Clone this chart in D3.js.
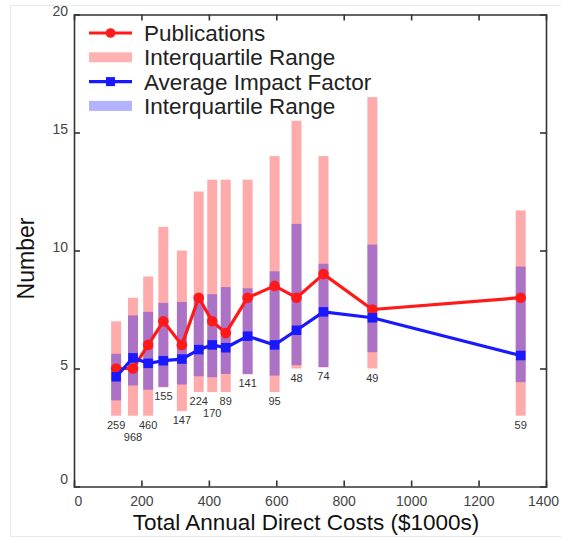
<!DOCTYPE html>
<html><head><meta charset="utf-8">
<script src="https://cdn.jsdelivr.net/npm/d3@7/dist/d3.min.js"></script>
<style>
html,body{margin:0;padding:0;background:#fff;}
svg{display:block;font-family:"Liberation Sans",Arial,sans-serif;}
</style></head>
<body><svg id="chart" width="561" height="540"></svg>
<script>
// ---- data ----
const costs      = [125, 175, 220, 265, 320, 370, 410, 450, 515, 595, 660, 740, 885, 1325];
const pubMedian  = [5.0, 5.0, 6.0, 7.0, 6.0, 8.0, 7.0, 6.5, 8.0, 8.5, 8.0, 9.0, 7.5, 8.0];
const pubQ1      = [3.0, 3.0, 3.0, 4.2, 3.2, 4.0, 4.0, 4.0, 4.75, 4.0, 5.0, 5.05, 5.0, 3.0];
const pubQ3      = [7.0, 8.0, 8.9, 11.0, 10.0, 12.5, 13.0, 13.0, 13.0, 14.0, 15.5, 14.0, 16.5, 11.7];
const ifMean     = [4.65, 5.45, 5.22, 5.33, 5.4, 5.8, 6.0, 5.88, 6.37, 6.0, 6.62, 7.4, 7.15, 5.55];
const ifQ1       = [3.65, 4.28, 4.1, 4.22, 4.32, 4.67, 4.63, 4.77, 4.77, 4.7, 5.14, 5.06, 5.69, 4.42];
const ifQ3       = [5.62, 7.25, 7.4, 7.78, 7.82, 8.0, 8.15, 8.45, 8.4, 9.12, 11.13, 9.44, 10.25, 9.32];
const counts     = [259, 968, 460, 155, 147, 224, 170, 89, 141, 95, 48, 74, 49, 59];
const xTicks     = [0, 200, 400, 600, 800, 1000, 1200, 1400];
const yTicks     = [0, 5, 10, 15, 20];
const legendLabels = ["Publications", "Interquartile Range", "Average Impact Factor", "Interquartile Range"];
const xTitle = "Total Annual Direct Costs ($1000s)";
const yTitle = "Number";

const rows = costs.map((c, i) => ({
  x: c, pm: pubMedian[i], p1: pubQ1[i], p3: pubQ3[i],
  im: ifMean[i], i1: ifQ1[i], i3: ifQ3[i], n: counts[i]
}));

const svg = d3.select("#chart");
const m = {left: 74, top: 14.5, right: 546, bottom: 486.5};

// faint frame of the original picture
svg.append("rect").attr("x", 10.5).attr("y", 5.5).attr("width", 560).attr("height", 531)
  .attr("fill", "none").attr("stroke", "#e6e9ed").attr("stroke-width", 1);

const x = d3.scaleLinear().domain([0, 1400]).range([m.left, m.right]);
const y = d3.scaleLinear().domain([0, 20]).range([m.bottom, m.top]);

const red = "rgb(255,25,25)", blue = "rgb(25,25,255)";
const barW = 10;

// bars
const g = svg.append("g");
g.selectAll("rect.pub").data(rows).join("rect").attr("class", "pub")
  .attr("x", d => x(d.x) - barW / 2).attr("width", barW)
  .attr("y", d => y(d.p3)).attr("height", d => y(d.p1) - y(d.p3))
  .attr("fill", "rgb(255,0,0)").attr("fill-opacity", 0.33);
g.selectAll("rect.if").data(rows).join("rect").attr("class", "if")
  .attr("x", d => x(d.x) - barW / 2).attr("width", barW)
  .attr("y", d => y(d.i3)).attr("height", d => y(d.i1) - y(d.i3))
  .attr("fill", "rgb(0,0,255)").attr("fill-opacity", 0.33);

// lines
g.append("path").datum(rows)
  .attr("d", d3.line().x(d => x(d.x)).y(d => y(d.pm)))
  .attr("fill", "none").attr("stroke", red).attr("stroke-width", 3.2).attr("stroke-linejoin", "round");
g.selectAll("circle.pub").data(rows).join("circle").attr("class", "pub")
  .attr("cx", d => x(d.x)).attr("cy", d => y(d.pm)).attr("r", 5.3).attr("fill", red);

g.append("path").datum(rows)
  .attr("d", d3.line().x(d => x(d.x)).y(d => y(d.im)))
  .attr("fill", "none").attr("stroke", blue).attr("stroke-width", 3.2).attr("stroke-linejoin", "round");
const sq = 9.5;
g.selectAll("rect.ifm").data(rows).join("rect").attr("class", "ifm")
  .attr("x", d => x(d.x) - sq / 2).attr("y", d => y(d.im) - sq / 2)
  .attr("width", sq).attr("height", sq).attr("fill", blue);

// count labels with simple collision avoidance
const placed = [];
const lab = svg.append("g").attr("font-size", 11).attr("fill", "#333").attr("text-anchor", "middle");
rows.forEach(d => {
  const cx = x(d.x);
  let ty = y(d.p1) + 13;
  const w = String(d.n).length * 6.2;
  let moved = true;
  while (moved) {
    moved = false;
    for (const p of placed) {
      if (Math.abs(p.cx - cx) < (p.w + w) / 2 && Math.abs(p.ty - ty) < 11) { ty = p.ty + 12; moved = true; }
    }
  }
  placed.push({cx, ty, w});
  lab.append("text").attr("x", cx).attr("y", ty).text(d.n);
});

// axes
const axisColor = "#333";
const tick = 6;
const fmt = d3.format("d");
const ax = [
  svg.append("g").attr("transform", `translate(0,${m.bottom})`).call(d3.axisBottom(x).tickValues(xTicks).tickFormat(fmt).tickSize(-tick).tickPadding(6)),
  svg.append("g").attr("transform", `translate(0,${m.top})`).call(d3.axisTop(x).tickValues(xTicks).tickSize(-tick).tickFormat("")),
  svg.append("g").attr("transform", `translate(${m.left},0)`).call(d3.axisLeft(y).tickValues(yTicks).tickFormat(fmt).tickSize(-tick).tickPadding(6)),
  svg.append("g").attr("transform", `translate(${m.right},0)`).call(d3.axisRight(y).tickValues(yTicks).tickSize(-tick).tickFormat(""))
];
ax.forEach(a => {
  a.select(".domain").attr("stroke", axisColor).attr("stroke-width", 1.6);
  a.selectAll(".tick line").attr("stroke", axisColor).attr("stroke-width", 1.6);
  a.selectAll(".tick text").attr("fill", "#444").attr("font-size", 14).attr("font-family", '"Liberation Sans",Arial,sans-serif');
});
ax[0].selectAll(".tick text").attr("dy", "0.95em").attr("dx", (v) => v === 0 ? 4 : (v === 1400 ? -3 : 0));
ax[2].selectAll(".tick text").attr("dy", (v) => v === 0 ? "-0.2em" : "0.1em");
ax.forEach(a => a.selectAll(".tick line").filter(v => v === 0 || v === 1400 || v === 20).remove());

// titles
svg.append("text").attr("x", (m.left + m.right) / 2 - 4).attr("y", 530)
  .attr("text-anchor", "middle").attr("font-size", 22.5).attr("fill", "#111").text(xTitle);
svg.append("text").attr("transform", `translate(34,${(m.top + m.bottom) / 2 + 8}) rotate(-90)`)
  .attr("text-anchor", "middle").attr("font-size", 23).attr("fill", "#111").text(yTitle);

// legend
const lg = svg.append("g");
const ly0 = 33, ldy = 24.3;
const legendItems = [
  {type: "line", color: red, marker: "circle"},
  {type: "swatch", color: "rgb(255,0,0)"},
  {type: "line", color: blue, marker: "square"},
  {type: "swatch", color: "rgb(0,0,255)"}
];
legendItems.forEach((it, i) => {
  const yy = ly0 + i * ldy;
  if (it.type === "line") {
    lg.append("line").attr("x1", 89).attr("x2", 132).attr("y1", yy).attr("y2", yy)
      .attr("stroke", it.color).attr("stroke-width", 3.2);
    if (it.marker === "circle") lg.append("circle").attr("cx", 110.5).attr("cy", yy).attr("r", 4.8).attr("fill", it.color);
    else lg.append("rect").attr("x", 110.5 - 4.5).attr("y", yy - 4.5).attr("width", 9).attr("height", 9).attr("fill", it.color);
  } else {
    lg.append("rect").attr("x", 89).attr("y", yy - 5).attr("width", 43).attr("height", 10)
      .attr("fill", it.color).attr("fill-opacity", 0.3);
  }
  lg.append("text").attr("x", 144).attr("y", yy + 8).attr("font-size", 22.5).attr("fill", "#222").text(legendLabels[i]);
});
</script>
</body></html>
